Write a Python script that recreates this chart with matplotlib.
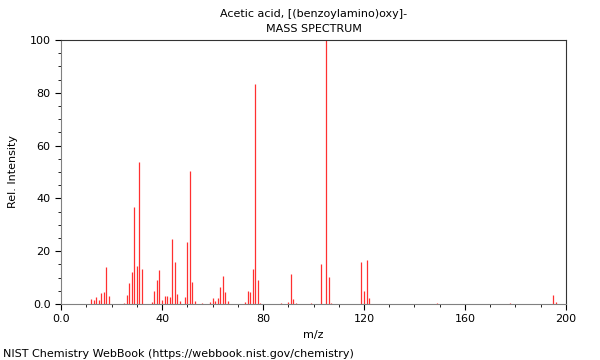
"""Acetic acid, [(benzoylamino)oxy]- 质谱图（NIST 风格）。"""

import matplotlib
matplotlib.use("Agg")
import matplotlib.pyplot as plt  # noqa: E402
from matplotlib.ticker import MultipleLocator, FuncFormatter  # noqa: E402

# m/z 与相对强度
mz = [12, 13, 14, 15, 16, 17, 18, 19,
      25, 26, 27, 28, 29, 30, 31, 32,
      36, 37, 38, 39, 40, 41, 42, 43, 44, 45, 46, 47,
      49, 50, 51, 52, 53, 56, 59, 60, 61, 62, 63, 64, 65, 66,
      73, 74, 75, 76, 77, 78, 79,
      87, 90, 91, 92, 93, 99,
      103, 104, 105, 106, 107,
      119, 120, 121, 122,
      149, 178, 195, 196]
intensity = [1.9, 1.5, 2.8, 1.5, 4.3, 4.7, 13.9, 3.0,
             0.5, 3.4, 8.1, 12.3, 36.9, 14.5, 53.9, 13.1,
             0.8, 5.0, 9.2, 12.9, 1.5, 3.1, 3.0, 2.5, 24.6, 16.0, 3.6, 1.2,
             2.8, 23.6, 50.3, 8.2, 1.2, 0.4, 0.8, 2.1, 1.2, 2.2, 6.3, 10.7, 4.7, 1.0,
             0.8, 4.9, 4.7, 13.4, 83.3, 9.0, 0.5,
             0.3, 0.9, 11.4, 1.9, 0.5, 0.3,
             15.2, 0.0, 100.0, 10.1, 0.5,
             15.9, 4.9, 16.7, 2.3,
             0.5, 0.2, 3.5, 0.7]

title = "Acetic acid, [(benzoylamino)oxy]-\nMASS SPECTRUM"
footer = "NIST Chemistry WebBook (https://webbook.nist.gov/chemistry)"

fig = plt.figure(figsize=(6, 3.6), dpi=100)
ax = fig.add_axes([0.1017, 0.1556, 0.8416, 0.7333])

ax.vlines(mz, 0, intensity, colors="#ff3030", linewidth=0.9)

ax.set_xlim(0, 200)
ax.set_ylim(0, 100)
ax.xaxis.set_major_locator(MultipleLocator(40))
ax.xaxis.set_minor_locator(MultipleLocator(10))
ax.yaxis.set_major_locator(MultipleLocator(20))
ax.yaxis.set_minor_locator(MultipleLocator(5))
fmt = FuncFormatter(lambda v, p: "0.0" if v == 0 else f"{v:.0f}")
ax.xaxis.set_major_formatter(fmt)
ax.yaxis.set_major_formatter(fmt)
ax.tick_params(which="major", length=4, labelsize=8, direction="out")
ax.tick_params(which="minor", length=2, direction="out")
for side in ("left", "bottom"):
    ax.spines[side].set_color("#808080")
for side in ("top", "right"):
    ax.spines[side].set_color("#333333")

ax.set_xlabel("m/z", fontsize=8)
ax.set_ylabel("Rel. Intensity", fontsize=8, labelpad=8)
ax.set_title(title, fontsize=8, linespacing=1.6)
fig.text(0.005, 0.008, footer, fontsize=8)

fig.savefig("out.png", dpi=100)
plt.close(fig)
